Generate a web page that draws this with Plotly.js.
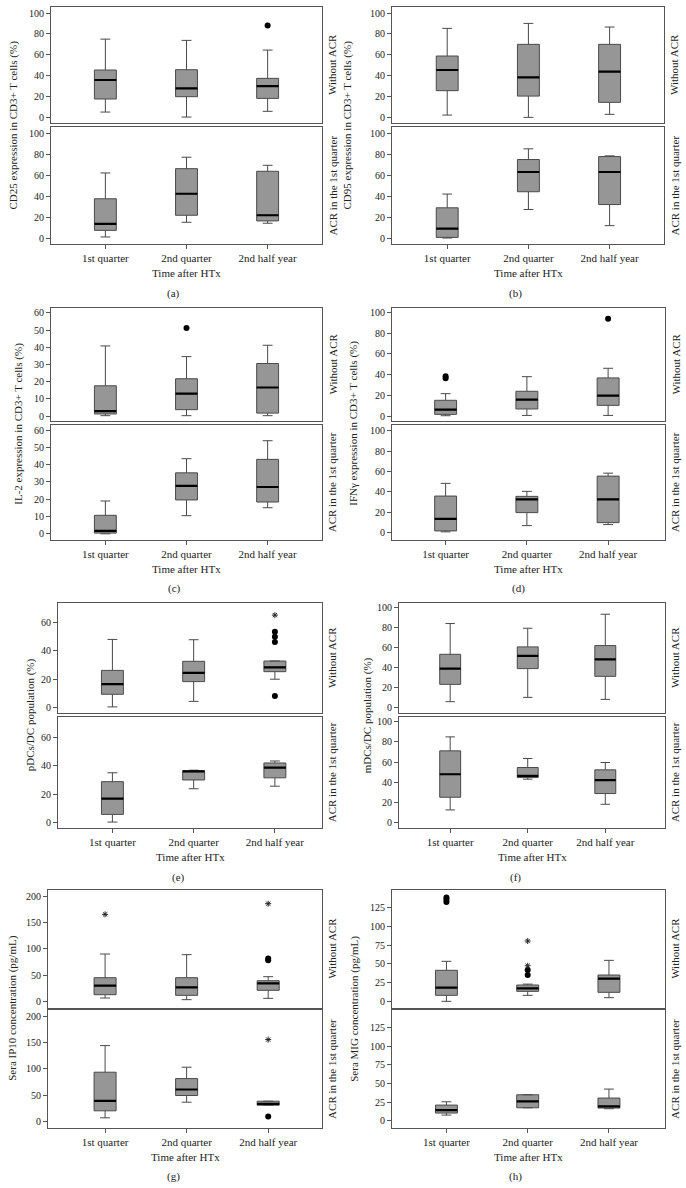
<!DOCTYPE html>
<html>
<head>
<meta charset="utf-8">
<script src="https://cdn.plot.ly/plotly-3.0.1.min.js"></script>
<style>
html, body { margin: 0; padding: 0; background: #fff; }
#grafico { width: 686px; height: 1188px; }
</style>
</head>
<body>
<div id="grafico"></div>
<script>
// Categorias e rótulos
const periods = ['1st quarter', '2nd quarter', '2nd half year'];
const stripLabels = ['Without ACR', 'ACR in the 1st quarter'];
const panelTags = ['(a)', '(b)', '(c)', '(d)', '(e)', '(f)', '(g)', '(h)'];
const yTitles = [
    'CD25 expression in CD3+ T cells (%)',
    'CD95 expression in CD3+ T cells (%)',
    'IL-2 expression in CD3+ T cells (%)',
    'IFNγ expression in CD3+ T cells (%)',
    'pDCs/DC population (%)',
    'mDCs/DC population (%)',
    'Sera IP10 concentration (pg/mL)',
    'Sera MIG concentration (pg/mL)'
];
const yTickSteps = [20, 20, 10, 20, 20, 20, 50, 25];

// Resumo de cada caixa por período: [bigode inferior, Q1, mediana, Q3, bigode superior]
const cd25Without = [[5.1, 17.6, 35.8, 45.4, 75], [0.3, 19.8, 27.8, 45.7, 73.8], [5.8, 18.2, 30, 37.4, 64.5]];
const cd25Acr = [[1, 7.3, 13.4, 37.4, 62], [15, 21.7, 42.2, 66.1, 77], [14.1, 16.3, 21.7, 63.6, 69.3]];
const cd95Without = [[2.2, 25.6, 45.4, 58.8, 85.3], [0, 20.4, 38.3, 70, 90.1], [2.9, 14.4, 43.8, 70, 86.6]];
const cd95Acr = [[0, 0.6, 8.9, 28.8, 41.9], [27.2, 44.1, 62.9, 74.8, 85], [11.8, 31.9, 62.9, 77.6, 78.3]];
const il2Without = [[0.2, 1.2, 2.9, 17.6, 40.8], [0.2, 3.7, 13, 21.7, 34.6], [0.2, 1.7, 16.6, 30.6, 41.2]];
const il2Acr = [[0, 0.4, 1.7, 10.7, 19], [10.5, 19.6, 27.8, 35.3, 43.5], [15.1, 18.4, 27.1, 43.1, 53.9]];
const ifngWithout = [[0.3, 1.6, 6.1, 15.2, 21.6], [0.6, 6.8, 15.8, 23.9, 38], [0.6, 10.3, 19.7, 36.8, 46.1]];
const ifngAcr = [[1, 1.9, 13.6, 36, 48.4], [7.1, 19.8, 32.8, 35.7, 40.6], [8.1, 10, 32.8, 55.5, 58.4]];
const pdcWithout = [[0.5, 9.4, 16.6, 26.2, 48], [4.4, 18.3, 24.4, 32.6, 47.8], [20, 25.3, 28.4, 32.8, 32.8]];
const pdcAcr = [[0.2, 5.6, 16.7, 28.7, 35], [23.7, 29.9, 36, 36.4, 36.8], [25.5, 31.4, 38.6, 41.9, 43.3]];
const mdcWithout = [[6, 23.3, 39, 53.3, 84], [10.3, 39, 51.7, 60.7, 79.3], [8.3, 31.3, 48.3, 62, 93.3]];
const mdcAcr = [[12.3, 24.9, 47.8, 71.1, 85], [42.9, 44.5, 46.2, 54.5, 63.5], [17.9, 28.6, 41.9, 52.2, 59.5]];
const ip10Without = [[6.9, 13.2, 30.3, 45.4, 90.2], [3.8, 12, 27.1, 45.4, 89], [6.3, 21.5, 34.7, 39.7, 47.3]];
const ip10Acr = [[7, 20.3, 39.2, 93.7, 144.3], [36.7, 49.4, 60.8, 81.6, 103.2], [31, 31, 33.5, 38.6, 38.6]];
const migWithout = [[0, 8, 18.2, 41.4, 53.4], [8, 13.3, 17.3, 21.8, 23], [4.9, 12, 30.2, 35.1, 54.7]];
const migAcr = [[7.6, 10.3, 14.3, 21, 25.4], [17.4, 17.4, 25.9, 34.8, 34.8], [16.1, 17, 19.2, 30.4, 42.4]];

// Outliers (círculos) e extremos (asteriscos) por período
const noPoints = [[], [], []];
const cd25WithoutDots = [[], [], [88]];
const il2WithoutDots = [[], [51.3], []];
const ifngWithoutDots = [[36.5, 38.5], [], [93.9]];
const pdcWithoutDots = [[], [], [8.2, 46.2, 49.9, 53.4]];
const pdcWithoutStars = [[], [], [65.1]];
const ip10WithoutDots = [[], [], [78.5, 81.5]];
const ip10WithoutStars = [[165.3], [], [185.5]];
const ip10AcrDots = [[], [], [9.5]];
const ip10AcrStars = [[], [], [155.7]];
const migWithoutDots = [[132.5, 135.5, 138.5], [35.1, 41.8], []];
const migWithoutStars = [[], [47.5, 80.5], []];

const panelData = [
    [{ s: cd25Without, d: cd25WithoutDots, a: noPoints }, { s: cd25Acr, d: noPoints, a: noPoints }],
    [{ s: cd95Without, d: noPoints, a: noPoints }, { s: cd95Acr, d: noPoints, a: noPoints }],
    [{ s: il2Without, d: il2WithoutDots, a: noPoints }, { s: il2Acr, d: noPoints, a: noPoints }],
    [{ s: ifngWithout, d: ifngWithoutDots, a: noPoints }, { s: ifngAcr, d: noPoints, a: noPoints }],
    [{ s: pdcWithout, d: pdcWithoutDots, a: pdcWithoutStars }, { s: pdcAcr, d: noPoints, a: noPoints }],
    [{ s: mdcWithout, d: noPoints, a: noPoints }, { s: mdcAcr, d: noPoints, a: noPoints }],
    [{ s: ip10Without, d: ip10WithoutDots, a: ip10WithoutStars }, { s: ip10Acr, d: ip10AcrDots, a: ip10AcrStars }],
    [{ s: migWithout, d: migWithoutDots, a: migWithoutStars }, { s: migAcr, d: noPoints, a: noPoints }]
];

// Geometria (pixels da figura 686x1188)
const W = 686, H = 1188;
const px = v => v / W;
const py = v => 1 - v / H;
const rows = [
    { up: [7, 123], lo: [127, 244] },
    { up: [308, 421], lo: [425, 539.5] },
    { up: [602.5, 713.3], lo: [716.5, 828] },
    { up: [890, 1007.7], lo: [1010.3, 1127.5] }
];
const cols = [[51, 322], [392, 664], [51, 322], [392, 665], [58, 322], [399, 665], [48, 322], [392, 665]];
const xRanges = [[-0.67, 2.67], [-0.68, 2.67], [-0.67, 2.67], [-0.66, 2.7], [-0.67, 2.58], [-0.66, 2.77], [-0.7, 2.66], [-0.67, 2.69]];
const yRanges = [
    [[-5.4, 105.8], [-5.7, 105.8]],
    [[-5.4, 105.8], [-5.7, 105.8]],
    [[-2.9, 62.9], [-3.3, 63]],
    [[-4.8, 104.3], [-6.5, 105.5]],
    [[-4, 74], [-4, 74.7]],
    [[-5.6, 105], [-5.7, 105.3]],
    [[-11.4, 211.4], [-11.4, 211.4]],
    [[-8.5, 148.6], [-9, 147.8]]
];
const yTitleX = [13, 347, 19, 354, 30, 367, 13, 355];
const tagX = [173, 515, 174, 518, 178, 515, 173, 515];

const serif = 'Liberation Serif, Times New Roman, serif';
const textColor = '#222';
const axisColor = '#555';

const data = [];
const layout = {
    width: W,
    height: H,
    margin: { l: 0, r: 0, t: 0, b: 0 },
    paper_bgcolor: '#fff',
    plot_bgcolor: '#fff',
    showlegend: false,
    hovermode: false,
    font: { family: serif, size: 11, color: textColor },
    annotations: []
};

panelData.forEach((panel, p) => {
    const row = rows[Math.floor(p / 2)];
    const [left, right] = cols[p];

    panel.forEach((sub, s) => {
        const n = p * 2 + s + 1;
        const xa = n === 1 ? 'x' : 'x' + n;
        const ya = n === 1 ? 'y' : 'y' + n;
        const band = s === 0 ? row.up : row.lo;

        // Caixa e bigodes
        data.push({
            type: 'box', xaxis: xa, yaxis: ya, x: periods,
            lowerfence: sub.s.map(v => v[0]),
            q1: sub.s.map(v => v[1]),
            median: sub.s.map(v => v[2]),
            q3: sub.s.map(v => v[3]),
            upperfence: sub.s.map(v => v[4]),
            width: 0.27, whiskerwidth: 0.45, boxpoints: false,
            fillcolor: '#969696', line: { color: '#4a4a4a', width: 1 }
        });
        // Mediana em preto
        data.push({
            type: 'box', xaxis: xa, yaxis: ya, x: periods,
            lowerfence: sub.s.map(v => v[2]),
            q1: sub.s.map(v => v[2]),
            median: sub.s.map(v => v[2]),
            q3: sub.s.map(v => v[2]),
            upperfence: sub.s.map(v => v[2]),
            width: 0.27, whiskerwidth: 0, boxpoints: false,
            fillcolor: 'rgba(0,0,0,0)', line: { color: '#000', width: 2.2 }
        });
        // Outliers
        const dx = [], dy = [], sx = [], sy = [];
        sub.d.forEach((vals, i) => vals.forEach(v => { dx.push(periods[i]); dy.push(v); }));
        sub.a.forEach((vals, i) => vals.forEach(v => { sx.push(periods[i]); sy.push(v); }));
        if (dy.length) {
            data.push({
                type: 'scatter', mode: 'markers', xaxis: xa, yaxis: ya, x: dx, y: dy,
                marker: { symbol: 'circle', size: 6, color: '#000' }
            });
        }
        if (sy.length) {
            data.push({
                type: 'scatter', mode: 'markers', xaxis: xa, yaxis: ya, x: sx, y: sy,
                marker: { symbol: 'asterisk-open', size: 5, color: '#222', line: { color: '#222', width: 1 } }
            });
        }

        layout[n === 1 ? 'xaxis' : 'xaxis' + n] = {
            domain: [px(left), px(right)],
            anchor: ya,
            type: 'category',
            categoryorder: 'array',
            categoryarray: periods,
            range: xRanges[p],
            fixedrange: true,
            showgrid: false,
            zeroline: false,
            showline: true,
            mirror: true,
            linecolor: axisColor,
            linewidth: 1,
            ticks: s === 1 ? 'outside' : '',
            ticklen: 4,
            tickcolor: axisColor,
            showticklabels: s === 1,
            tickfont: { family: serif, size: 11, color: textColor }
        };
        layout[n === 1 ? 'yaxis' : 'yaxis' + n] = {
            domain: [py(band[1]), py(band[0])],
            anchor: xa,
            range: yRanges[p][s],
            fixedrange: true,
            tick0: 0,
            dtick: yTickSteps[p],
            showgrid: false,
            zeroline: false,
            showline: true,
            mirror: true,
            linecolor: axisColor,
            linewidth: 1,
            ticks: 'outside',
            ticklen: 4,
            tickcolor: axisColor,
            tickfont: { family: serif, size: 10, color: textColor }
        };

        // Rótulo da faixa à direita
        layout.annotations.push({
            xref: 'paper', yref: 'paper',
            x: px(right + 10), y: py((band[0] + band[1]) / 2),
            text: stripLabels[s], textangle: -90, showarrow: false,
            xanchor: 'center', yanchor: 'middle',
            font: { family: serif, size: 11, color: textColor }
        });
    });

    layout.annotations.push({
        xref: 'paper', yref: 'paper',
        x: px(yTitleX[p]), y: py((row.up[0] + row.lo[1]) / 2),
        text: yTitles[p], textangle: -90, showarrow: false,
        xanchor: 'center', yanchor: 'middle',
        font: { family: serif, size: 11, color: textColor }
    });
    layout.annotations.push({
        xref: 'paper', yref: 'paper',
        x: px((left + right) / 2), y: py(row.lo[1] + 29),
        text: 'Time after HTx', showarrow: false,
        xanchor: 'center', yanchor: 'middle',
        font: { family: serif, size: 11, color: textColor }
    });
    layout.annotations.push({
        xref: 'paper', yref: 'paper',
        x: px(tagX[p]), y: py(row.lo[1] + 49),
        text: panelTags[p], showarrow: false,
        xanchor: 'center', yanchor: 'middle',
        font: { family: serif, size: 11, color: textColor }
    });
});

Plotly.newPlot('grafico', data, layout, { displayModeBar: false, staticPlot: true });
</script>
</body>
</html>
